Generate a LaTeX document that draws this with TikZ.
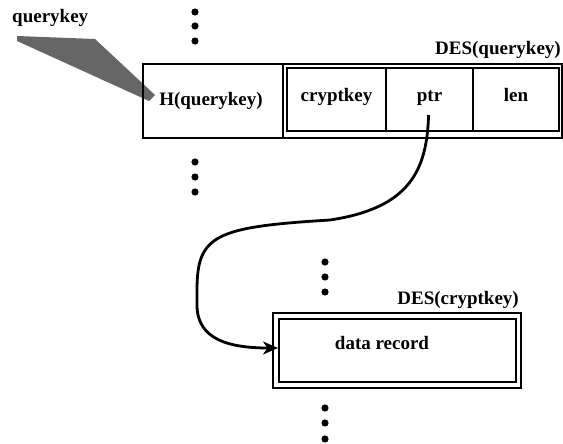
\documentclass[tikz,border=0pt]{standalone}
\usepackage{fontspec}
\setmainfont{Liberation Serif}
\usetikzlibrary{arrows.meta}
\begin{document}
\begin{tikzpicture}[x=1pt,y=-1pt,
  lbl/.style={font=\fontsize{19}{22}\selectfont\bfseries, inner sep=0pt, anchor=base},
  box/.style={draw, line width=2.1pt, inner sep=0pt, anchor=north west},
  cell/.style={box, minimum height=63pt},
  dotmark/.style={fill=black, draw=none},
  link/.style={line width=2.8pt, -{Stealth[length=15pt,width=13pt,inset=4.5pt]}}]
\useasboundingbox (0,0) rectangle (563,444);

% hashed key beam pointing at the index entry
\fill[black!60] (17,36) -- (95,39) -- (155,95) -- (149,101) -- (17,41) -- cycle;
\node[lbl, anchor=base west] (qk) at (12,23) {querykey};

% index table row
\node[box, minimum width=419pt, minimum height=74pt] (row) at (142,63) {};
\node[box, minimum width=140pt, minimum height=74pt] (hcell) at (142,63) {};
\node[lbl] (hq) at (211,106) {H(querykey)};
\node[box, minimum width=272pt, minimum height=63pt] (enc) at (286,67) {};
\node[cell, minimum width=99pt] (ck) at (286,67) {};
\node[cell, minimum width=87pt] (pt) at (385,67) {};
\node[cell, minimum width=86pt] (ln) at (472,67) {};
\node[lbl] at (ck.center |- 0,102) {cryptkey};
\node[lbl] at (pt.center |- 0,102) {ptr};
\node[lbl] at (ln.center |- 0,102) {len};
\node[lbl, anchor=base east] (desq) at (561,55) {DES(querykey)};

% data record
\node[box, minimum width=248pt, minimum height=75pt] (dout) at (272,312) {};
\node[box, minimum width=237pt, minimum height=63pt] (din) at (278,318) {};
\node[lbl] (dr) at (382,349) {data record};
\node[lbl, anchor=base east] (desc) at (519,304) {DES(cryptkey)};

% continuation marks
\foreach \x/\y in {195/12, 195/26, 195/41,
                   195/162, 195/177, 195/192,
                   325/262, 325/277, 325/292,
                   325/408, 325/423, 325/439}
  \fill[dotmark] (\x,\y) circle (3.6pt);

% pointer from ptr field to the data record
\coordinate (pstart) at ([xshift=-1pt,yshift=17pt]pt.south);
\draw[link] (pstart) .. controls (427,170) and (410,208) .. (330,220)
  .. controls (215,227) and (197,235) .. (197,290) -- (197,305)
  .. controls (197,340) and (230,348) .. (din.west |- 0,348);
\end{tikzpicture}
\end{document}
